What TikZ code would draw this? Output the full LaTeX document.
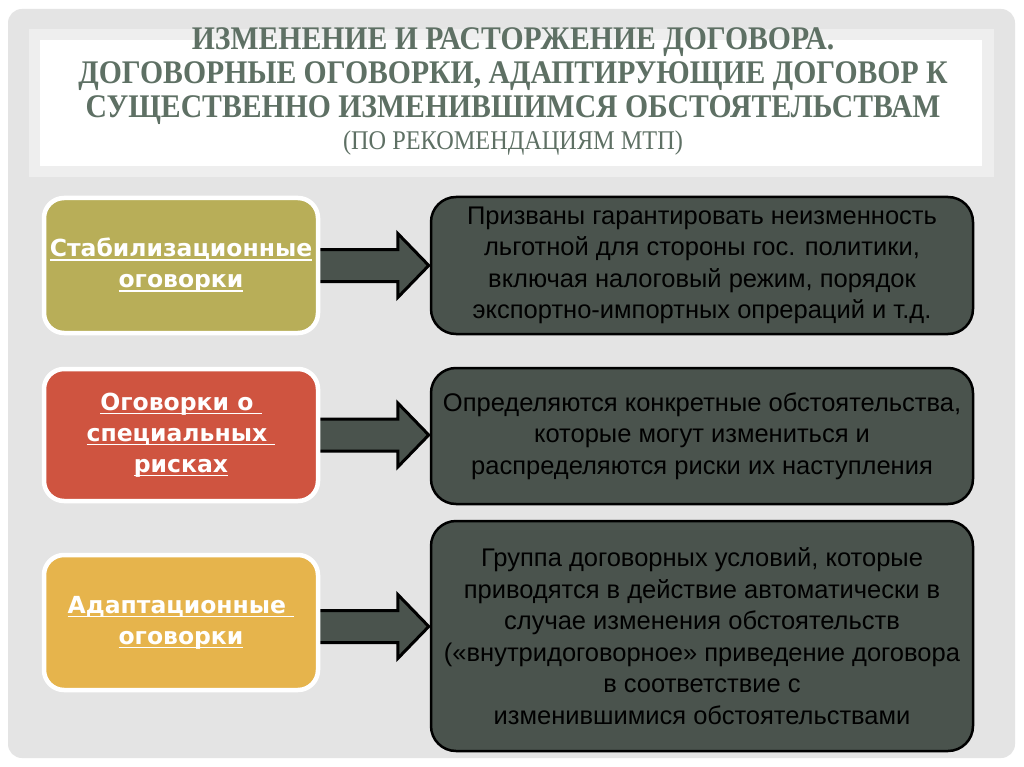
\documentclass[tikz,border=0pt]{standalone}
\usepackage{fontspec}
\setmainfont{Liberation Sans}
\newfontfamily\titlefont[FakeStretch=0.9]{Liberation Serif}
\newfontfamily\leftfont{DejaVu Sans}
\usetikzlibrary{calc}
\definecolor{panelgray}{HTML}{E4E4E4}
\definecolor{bandgray}{HTML}{EEEEEE}
\definecolor{titlecol}{HTML}{5E7064}
\definecolor{olivebox}{HTML}{B8AE58}
\definecolor{redbox}{HTML}{CF5440}
\definecolor{yellowbox}{HTML}{E6B44C}
\definecolor{darkbox}{HTML}{4A534D}
\pgfdeclarelayer{bg}
\pgfdeclarelayer{back}
\pgfsetlayers{back,bg,main}
\tikzset{
  titleline/.style={anchor=base, text=titlecol, font=\titlefont\bfseries\fontsize{33}{36}\selectfont, inner sep=0pt},
  subtitleline/.style={anchor=base, text=titlecol, font=\titlefont\fontsize{27}{30}\selectfont, inner sep=0pt},
  lbox/.style={draw=white, line width=4.5pt, rounded corners=20pt, minimum width=274pt, text=white, align=center, inner sep=0pt,
    font=\leftfont\bfseries\fontsize{23.5}{31}\selectfont},
  rbox/.style={draw=black, line width=2.5pt, rounded corners=25pt, fill=darkbox, minimum width=542pt, text=black, align=center, inner sep=0pt,
    font=\fontsize{25.5}{31.5}\selectfont},
  barrow/.style={draw=black, line width=3pt, fill=darkbox, line join=miter}
}
\newcommand\ulin[1]{\setbox0\hbox{#1}\leavevmode\rlap{\rule[-4pt]{\wd0}{1.6pt}}\box0}
\newcommand\blockarr[3]{%
  \draw[barrow] let \p1=(#1.center), \p2=(#2.west) in
    (\x1,\y1+16pt+#3) -- (\x2-32pt,\y1+16pt+#3) -- (\x2-32pt,\y1+32pt+#3) -- (\x2-1pt,\y1+#3)
    -- (\x2-32pt,\y1-32pt+#3) -- (\x2-32pt,\y1-16pt+#3) -- (\x1,\y1-16pt+#3) -- cycle;}
\begin{document}
\begin{tikzpicture}[x=1pt,y=-1pt]
\useasboundingbox (0,0) rectangle (1024,767);
\begin{pgfonlayer}{back}
\fill[white] (0,0) rectangle (1024,767);
\fill[panelgray, rounded corners=14pt] (8,9) rectangle (1015,758);
\fill[bandgray] (29,29) rectangle (994,177);
\fill[white] (40,40) rectangle (982,166);
\end{pgfonlayer}
% title
\node[titleline] (t1) at (513,50) {ИЗМЕНЕНИЕ И РАСТОРЖЕНИЕ ДОГОВОРА.};
\node[titleline] (t2) at (513,84) {ДОГОВОРНЫЕ ОГОВОРКИ, АДАПТИРУЮЩИЕ ДОГОВОР К};
\node[titleline] (t3) at (513,118) {СУЩЕСТВЕННО ИЗМЕНИВШИМСЯ ОБСТОЯТЕЛЬСТВАМ};
\node[subtitleline] (t4) at (513,150) {(ПО РЕКОМЕНДАЦИЯМ МТП)};
% left boxes
\node[lbox, fill=olivebox, minimum height=135pt] (L1) at (181,265.5) {\ulin{Стабилизационные}\\\ulin{оговорки}};
\node[lbox, fill=redbox, minimum height=132pt] (L2) at (181,435) {\ulin{Оговорки о\ }\\\ulin{специальных\ }\\\ulin{рисках}};
\node[lbox, fill=yellowbox, minimum height=135pt] (L3) at (181,622.5) {\ulin{Адаптационные\ }\\\ulin{оговорки}};
% right boxes
\node[rbox, minimum height=137pt] (R1) at (702,265.5) {Призваны гарантировать неизменность\\льготной для стороны гос. политики,\\включая налоговый режим, порядок\\экспортно-импортных опрераций и т.д.};
\node[rbox, minimum height=136pt] (R2) at (702,436) {Определяются конкретные обстоятельства,\\которые могут измениться и\\распределяются риски их наступления};
\node[rbox, minimum height=230pt] (R3) at (702,636) {Группа договорных условий, которые\\приводятся в действие автоматически в\\случае изменения обстоятельств\\(«внутридоговорное» приведение договора\\в соответствие с\\изменившимися обстоятельствами};
% arrows
\begin{pgfonlayer}{bg}
\blockarr{L1}{R1}{0pt}
\blockarr{L2}{R2}{0pt}
\blockarr{L3}{R3}{-4pt}
\end{pgfonlayer}
\end{tikzpicture}
\end{document}
